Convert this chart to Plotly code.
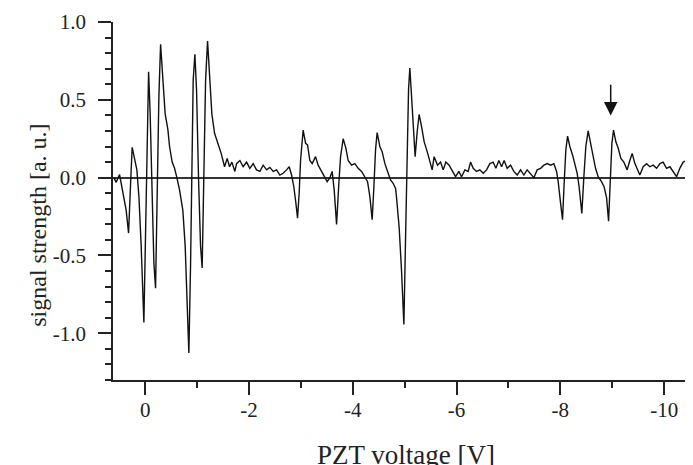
import plotly.graph_objects as go

# PZT voltage [V] and signal strength [a.u.]
pzt_voltage = [
    0.603, 0.559, 0.493, 0.462, 0.430, 0.366, 0.320, 0.289, 0.270, 0.250,
    0.204, 0.160, 0.121, 0.077, 0.025, -0.008, -0.033, -0.066, -0.096, -0.135,
    -0.168, -0.200, -0.231, -0.264, -0.297, -0.341, -0.385, -0.437, -0.470, -0.520,
    -0.566, -0.611, -0.663, -0.726, -0.771, -0.809, -0.842, -0.875, -0.900, -0.925,
    -0.958, -0.990, -1.029, -1.067, -1.098, -1.131, -1.164, -1.202, -1.241, -1.285,
    -1.337, -1.401, -1.464, -1.530, -1.580, -1.626, -1.671,
    -1.728, -1.761, -1.825, -1.888, -1.954, -2.017, -2.081, -2.146, -2.210, -2.274,
    -2.339, -2.403, -2.466, -2.532, -2.595, -2.659, -2.724, -2.775, -2.821, -2.865,
    -2.904, -2.936, -2.967, -2.994, -3.044, -3.091, -3.129, -3.173, -3.218, -3.283,
    -3.333, -3.399, -3.462, -3.507, -3.559, -3.603, -3.642, -3.688, -3.732, -3.765,
    -3.815, -3.867, -3.911, -3.977, -4.040, -4.104, -4.170, -4.233, -4.285, -4.329,
    -4.374, -4.407, -4.439, -4.470, -4.522, -4.566, -4.619, -4.671, -4.728, -4.778,
    -4.825, -4.844, -4.894, -4.940, -4.985, -5.017, -5.048, -5.075, -5.100, -5.133,
    -5.164, -5.202, -5.241, -5.279, -5.326, -5.376, -5.434, -5.486, -5.530, -5.568,
    -5.634, -5.692, -5.742, -5.794, -5.857, -5.923, -5.981, -6.044, -6.096, -6.160,
    -6.224, -6.270, -6.320, -6.386, -6.449, -6.513, -6.578, -6.642, -6.705, -6.757,
    -6.815, -6.867, -6.917, -6.975, -7.040, -7.104, -7.168, -7.233, -7.297, -7.360,
    -7.426, -7.490, -7.553, -7.619, -7.683, -7.746, -7.811, -7.875, -7.927, -7.958,
    -8.004, -8.042, -8.073, -8.106, -8.139, -8.183, -8.235, -8.279, -8.324, -8.362,
    -8.414, -8.453, -8.491, -8.536, -8.582, -8.632, -8.678, -8.728, -8.794, -8.844,
    -8.891, -8.929, -8.960, -8.993, -9.025, -9.069, -9.114, -9.166, -9.223, -9.287,
    -9.339, -9.384, -9.436, -9.480, -9.532, -9.596, -9.661, -9.725, -9.788, -9.854,
    -9.918, -9.981, -10.046, -10.110, -10.173, -10.239, -10.302, -10.366, -10.432, -10.495,
    -10.547,
]
signal_strength = [
    0.0, -0.03, 0.02, -0.04, -0.08, -0.21, -0.356, -0.16, 0.05, 0.195,
    0.124, 0.05, -0.12, -0.44, -0.93, -0.34, 0.31, 0.68, 0.41, -0.12,
    -0.55, -0.71, -0.12, 0.52, 0.857, 0.626, 0.41, 0.31, 0.20, 0.10,
    0.06, 0.0, -0.08, -0.21, -0.44, -0.81, -1.126, -0.55, 0.20, 0.626,
    0.793, 0.56, -0.015, -0.44, -0.58, -0.015, 0.626, 0.878, 0.67, 0.41,
    0.285, 0.22, 0.156, 0.07, 0.124, 0.07, 0.10,
    0.04, 0.09, 0.11, 0.07, 0.10, 0.06, 0.09, 0.05, 0.04, 0.08,
    0.05, 0.066, 0.04, 0.05, 0.017, 0.028, 0.05, 0.07, 0.017, -0.06,
    -0.164, -0.26, -0.10, 0.11, 0.306, 0.22, 0.21, 0.11, 0.09, 0.135,
    0.08, 0.04, 0.0, -0.026, 0.0, 0.04, -0.08, -0.30, -0.036, 0.135,
    0.25, 0.19, 0.11, 0.08, 0.09, 0.06, 0.04, 0.0, -0.026, -0.12,
    -0.27, -0.06, 0.18, 0.29, 0.20, 0.167, 0.09, 0.04, -0.015, -0.036,
    -0.07, -0.13, -0.32, -0.60, -0.944, -0.39, 0.25, 0.57, 0.705, 0.53,
    0.295, 0.135, 0.295, 0.406, 0.327, 0.23, 0.167, 0.10, 0.05, 0.135,
    0.08, 0.10, 0.05, 0.10, 0.08, 0.04, 0.006, 0.04, 0.006, 0.05,
    0.04, 0.10, 0.06, 0.04, 0.05, 0.028, 0.05, 0.09, 0.10, 0.06,
    0.11, 0.07, 0.11, 0.06, 0.08, 0.04, 0.017, 0.05, 0.017, 0.05,
    0.028, 0.0, 0.05, 0.06, 0.08, 0.09, 0.08, 0.09, 0.04, -0.026,
    -0.164, -0.27, -0.036, 0.18, 0.267, 0.20, 0.146, 0.09, 0.028, -0.06,
    -0.23, 0.006, 0.20, 0.30, 0.22, 0.135, 0.06, 0.006, -0.026, -0.06,
    -0.13, -0.28, 0.006, 0.22, 0.306, 0.23, 0.19, 0.124, 0.10, 0.05,
    0.11, 0.156, 0.09, 0.06, 0.017, 0.07, 0.09, 0.07, 0.08, 0.06,
    0.09, 0.10, 0.06, 0.07, 0.04, 0.006, 0.06, 0.10, 0.11, 0.09,
    0.08,
]

x_tick_values = [0, -2, -4, -6, -8, -10]
x_tick_labels = ["0", "-2", "-4", "-6", "-8", "-10"]
y_tick_values = [1.0, 0.5, 0.0, -0.5, -1.0]
y_tick_labels = ["1.0", "0.5", "0.0", "-0.5", "-1.0"]

arrow_x = -8.97
arrow_tip_y = 0.40
arrow_tail_y = 0.607

FONT = "Liberation Serif"
INK = "#222222"

fig = go.Figure()
fig.add_trace(go.Scatter(
    x=pzt_voltage, y=signal_strength, mode="lines",
    line=dict(color="#111111", width=1.4), showlegend=False,
))

axis_common = dict(
    showline=True, linecolor=INK, linewidth=1.5,
    ticks="outside", ticklen=13, tickwidth=1.5, tickcolor=INK,
    showgrid=False, tickfont=dict(family=FONT, size=21, color=INK),
)

fig.update_layout(
    width=693, height=465,
    margin=dict(l=105, r=0, t=14, b=93),
    paper_bgcolor="white", plot_bgcolor="white",
    font=dict(family=FONT, color=INK),
    xaxis=dict(
        range=[0.62, -10.71], tickmode="array",
        tickvals=x_tick_values, ticktext=x_tick_labels, zeroline=False,
        minor=dict(ticks="outside", ticklen=6, tickwidth=1.5, tickcolor=INK, dtick=1, tick0=0),
        ticklabelstandoff=-3,
        **axis_common,
    ),
    yaxis=dict(
        range=[-1.3, 1.0], tickmode="array",
        tickvals=y_tick_values, ticktext=y_tick_labels,
        zeroline=True, zerolinecolor="#333333", zerolinewidth=1.5,
        minor=dict(ticks="outside", ticklen=6, tickwidth=1.5, tickcolor=INK, dtick=0.1, tick0=0),
        ticklabelstandoff=8,
        **axis_common,
    ),
    annotations=[
        dict(x=arrow_x, y=arrow_tip_y, ax=arrow_x, ay=arrow_tail_y,
             xref="x", yref="y", axref="x", ayref="y", text="",
             showarrow=True, arrowhead=2, arrowsize=1.8, arrowwidth=1.5,
             arrowcolor="#111111"),
        dict(text="PZT voltage [V]", xref="paper", yref="paper",
             x=0.498, y=-0.163, xanchor="center", yanchor="top",
             showarrow=False, font=dict(family=FONT, size=27, color=INK)),
        dict(text="signal strength [a. u.]", xref="paper", yref="paper",
             x=-0.128, y=0.433, xanchor="center", yanchor="middle", textangle=-90,
             showarrow=False, font=dict(family=FONT, size=24, color=INK)),
    ],
)

fig.write_html("out.html")
